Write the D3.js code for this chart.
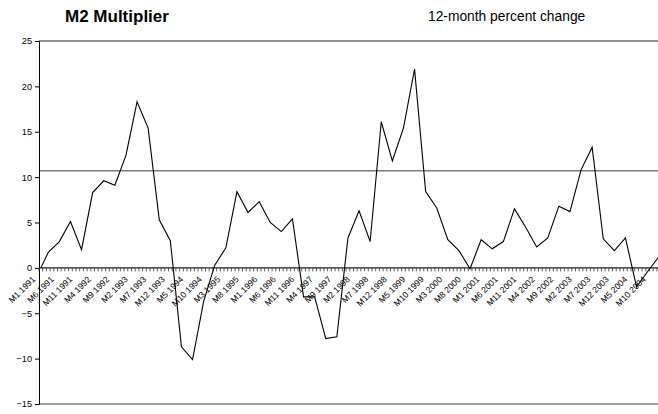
<!DOCTYPE html>
<html>
<head>
<meta charset="utf-8">
<script src="https://cdn.jsdelivr.net/npm/d3@7"></script>
<style>
  html, body { margin: 0; padding: 0; background: #fff; }
  svg { display: block; font-family: "Liberation Sans", Arial, sans-serif; }
</style>
</head>
<body>
<svg id="chart" width="658" height="414"></svg>
<script>
// Monthly category axis, January 1991 through December 2004
const years = d3.range(1991, 2005);
const months = years.flatMap(yr => d3.range(1, 13).map(m => `M${m} ${yr}`));

// Observed months (January 1991, then quarter-end months)
const obsMonths = ["M1 1991"].concat(years.flatMap(yr => [3, 6, 9, 12].map(m => `M${m} ${yr}`)));

// 12-month percent change of the M2 multiplier
const values = [
  0.0,
  1.7, 2.9, 5.1, 2.0,
  8.3, 9.6, 9.1, 12.4,
  18.3, 15.4, 5.3, 3.0,
  -8.7, -10.1, -3.7, 0.3,
  2.2, 8.4, 6.1, 7.3,
  5.0, 4.0, 5.4, -3.2,
  -3.2, -7.8, -7.6, 3.3,
  6.3, 2.9, 16.1, 11.8,
  15.4, 21.9, 8.4, 6.6,
  3.1, 1.9, -0.1, 3.1,
  2.1, 2.9, 6.5, 4.5,
  2.3, 3.3, 6.8, 6.2,
  10.8, 13.3, 3.2, 1.9,
  3.3, -2.1, -0.4, 1.2
];

// Horizontal reference level
const refLevel = 10.7;

const yTicks = [-15, -10, -5, 0, 5, 10, 15, 20, 25];
const labelEvery = 5;

(function draw() {
  const svg = d3.select("#chart");
  const plotL = 39, plotR = 660.6, plotT = 41, plotB = 404;

  const x = d3.scaleBand().domain(months).range([plotL, plotR]).padding(0);
  const y = d3.scaleLinear().domain([-15, 25]).range([plotB, plotT]);
  const cx = m => x(m) + x.bandwidth() / 2;

  // Title and subtitle
  svg.append("text").attr("x", 65).attr("y", 22)
    .attr("font-size", 17).attr("font-weight", "bold").text("M2 Multiplier");
  svg.append("text").attr("x", 428).attr("y", 21)
    .attr("font-size", 13.8).text("12-month percent change");

  // Plot frame lines (top and bottom)
  svg.append("line").attr("x1", plotL).attr("x2", 658).attr("y1", y(25)).attr("y2", y(25))
    .attr("stroke", "#222").attr("stroke-width", 1);
  svg.append("line").attr("x1", plotL).attr("x2", 658).attr("y1", y(-15)).attr("y2", y(-15))
    .attr("stroke", "#808080").attr("stroke-width", 1.6);

  // Reference line
  svg.append("line").attr("x1", plotL).attr("x2", 658).attr("y1", y(refLevel)).attr("y2", y(refLevel))
    .attr("stroke", "#7a7a7a").attr("stroke-width", 1.3);

  // Y axis
  const yAxis = d3.axisLeft(y).tickValues(yTicks).tickSize(4).tickPadding(3);
  const gy = svg.append("g").attr("transform", `translate(${plotL},0)`).call(yAxis);
  gy.select(".domain").attr("stroke", "#000");
  gy.selectAll(".tick line").attr("stroke", "#000");
  gy.selectAll(".tick text").attr("font-size", 9.2).attr("fill", "#000")
    .attr("font-family", "Liberation Sans, Arial, sans-serif");

  // Category axis on the zero line, ticks at month boundaries
  const gx = svg.append("g").attr("transform", `translate(0,${y(0)})`);
  gx.append("line").attr("x1", plotL).attr("x2", 660).attr("stroke", "#222").attr("stroke-width", 1.2);
  gx.selectAll("line.tk").data(months).join("line").attr("class", "tk")
    .attr("x1", d => x(d)).attr("x2", d => x(d)).attr("y1", 0).attr("y2", 3.5)
    .attr("stroke", "#333").attr("stroke-width", 0.8);
  gx.selectAll("text").data(months.filter((d, i) => i % labelEvery === 0)).join("text")
    .attr("transform", d => `translate(${cx(d) - 5},${12}) rotate(-45)`)
    .attr("text-anchor", "end")
    .attr("font-size", 8.6)
    .attr("fill", "#000")
    .text(d => d);

  // Series line
  const pts = obsMonths.map((m, i) => ({ m, v: values[i] }));
  const line = d3.line().x(d => cx(d.m)).y(d => y(d.v));
  svg.append("path").datum(pts).attr("d", line)
    .attr("fill", "none").attr("stroke", "#000").attr("stroke-width", 1.1)
    .attr("stroke-linejoin", "miter");
})();
</script>
</body>
</html>
